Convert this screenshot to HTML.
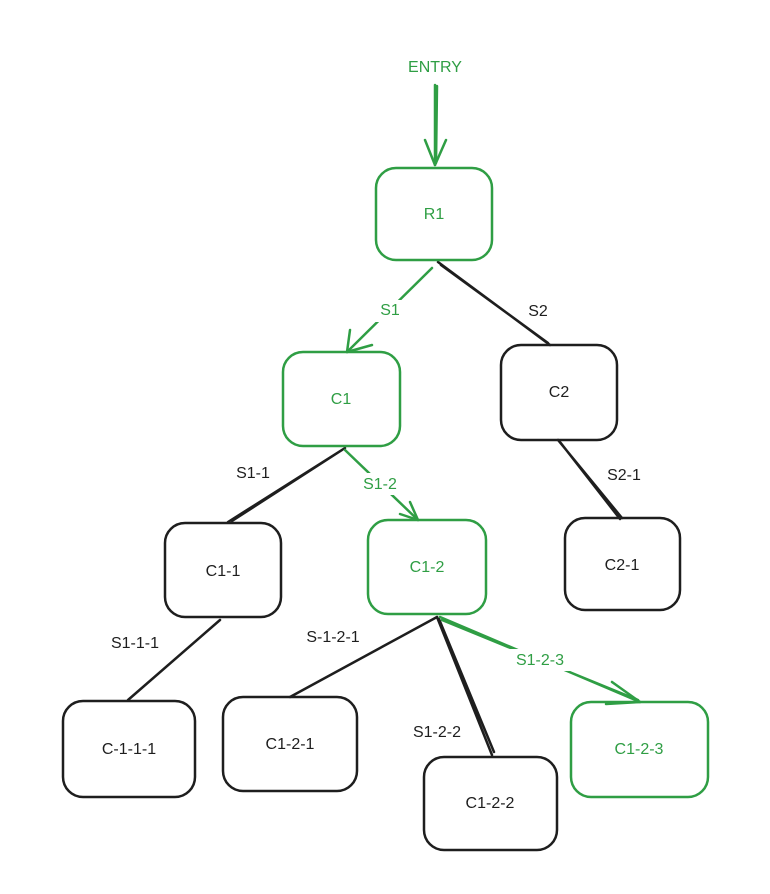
<!DOCTYPE html>
<html><head><meta charset="utf-8"><style>
html,body{margin:0;padding:0;background:#fff;}
svg{display:block;}
text{font-family:"Liberation Sans",sans-serif;font-size:16px;text-anchor:middle;dominant-baseline:middle;font-weight:500;}
.g{fill:#2f9e44;}
.k{fill:#1e1e1e;}
</style></head><body>
<svg width="770" height="894" viewBox="0 0 770 894" xmlns="http://www.w3.org/2000/svg">
<g fill="none" stroke-width="2.5" stroke-linecap="round" stroke-linejoin="round">
<g stroke="#1e1e1e">
<path d="M438 262 L550 345 M441 265 L548 343"/>
<path d="M345 448 L228 522 M342 450 L232 521"/>
<path d="M558 440 L622 518 M560 442 L620 519"/>
<path d="M220 620 L128 700"/>
<path d="M437 617 L290 697"/>
<path d="M437 617 L492 755 M439 619 L494 752"/>
</g>
<g stroke="#2f9e44">
<path d="M435 85 L435 165 M437 86 L436 163"/>
<path d="M425 140 L435 165 L446 140"/>
<path d="M432 268 L347 352"/>
<path d="M350 330 L347 352 L372 345"/>
<path d="M345 450 L418 520"/>
<path d="M400 514 L418 520 L410 502"/>
<path d="M440 617 L640 702 M442 620 L638 700"/>
<path d="M612 682 L640 702 L606 704"/>
</g>
<g stroke="#2f9e44">
<rect x="376" y="168" width="116" height="92" rx="20"/>
<rect x="283" y="352" width="117" height="94" rx="20"/>
<rect x="368" y="520" width="118" height="94" rx="20"/>
<rect x="571" y="702" width="137" height="95" rx="20"/>
</g>
<g stroke="#1e1e1e">
<rect x="501" y="345" width="116" height="95" rx="20"/>
<rect x="165" y="523" width="116" height="94" rx="20"/>
<rect x="565" y="518" width="115" height="92" rx="20"/>
<rect x="63" y="701" width="132" height="96" rx="20"/>
<rect x="223" y="697" width="134" height="94" rx="20"/>
<rect x="424" y="757" width="133" height="93" rx="20"/>
</g>
</g>
<rect x="372" y="300" width="36" height="22" fill="#fff"/>
<rect x="356" y="473" width="48" height="22" fill="#fff"/>
<rect x="506" y="649" width="68" height="22" fill="#fff"/>
<text x="435" y="68" class="g">ENTRY</text>
<text x="434" y="215" class="g">R1</text>
<text x="390" y="311" class="g">S1</text>
<text x="538" y="312" class="k">S2</text>
<text x="341" y="400" class="g">C1</text>
<text x="559" y="393" class="k">C2</text>
<text x="253" y="474" class="k">S1-1</text>
<text x="380" y="485" class="g">S1-2</text>
<text x="624" y="476" class="k">S2-1</text>
<text x="223" y="572" class="k">C1-1</text>
<text x="427" y="568" class="g">C1-2</text>
<text x="622" y="566" class="k">C2-1</text>
<text x="135" y="644" class="k">S1-1-1</text>
<text x="333" y="638" class="k">S-1-2-1</text>
<text x="540" y="661" class="g">S1-2-3</text>
<text x="437" y="733" class="k">S1-2-2</text>
<text x="129" y="750" class="k">C-1-1-1</text>
<text x="290" y="745" class="k">C1-2-1</text>
<text x="490" y="804" class="k">C1-2-2</text>
<text x="639" y="750" class="g">C1-2-3</text>
</svg>
</body></html>
